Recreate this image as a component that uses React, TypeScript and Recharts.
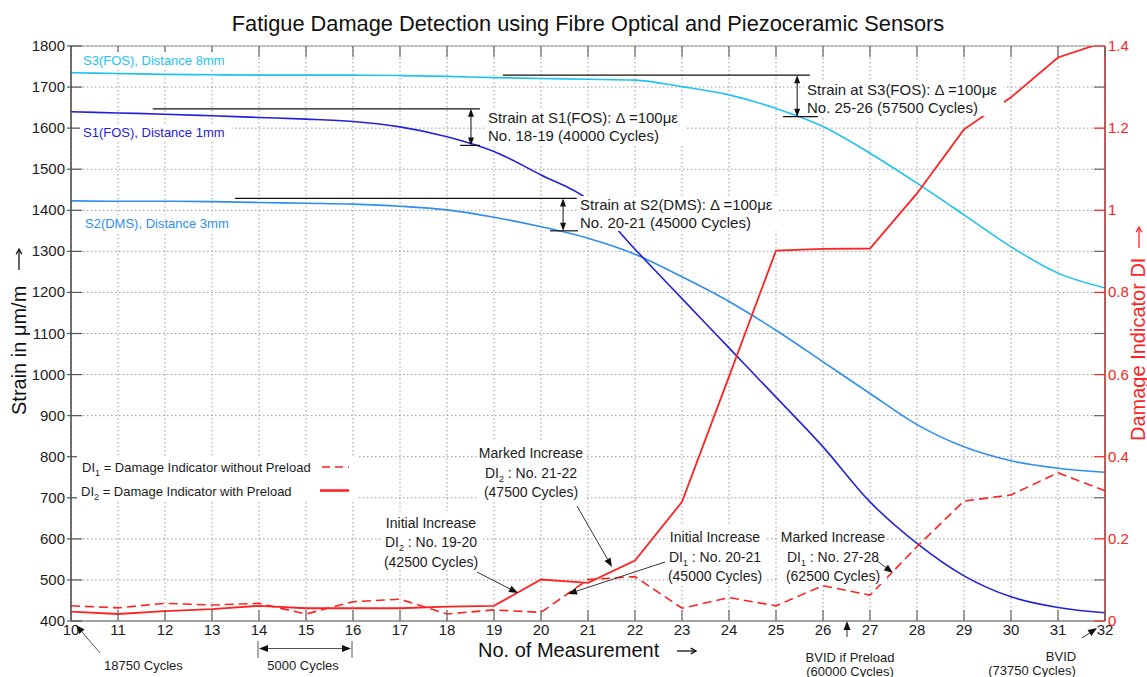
import React from "react";
import {
  LineChart,
  Line,
  XAxis,
  YAxis,
  CartesianGrid,
  ReferenceLine,
} from "recharts";

// ---- values ----
const measurements = [10, 11, 12, 13, 14, 15, 16, 17, 18, 19, 20, 21, 22, 23, 24, 25, 26, 27, 28, 29, 30, 31, 32];

// strain in µm/m
const strainS1 = [1640, 1637, 1634, 1630, 1626, 1622, 1616, 1603, 1579, 1543, 1486, 1426, 1305, 1185, 1065, 945, 824, 690, 589, 510, 459, 433, 420];
const strainS2 = [1423, 1422, 1422, 1421, 1419, 1417, 1415, 1410, 1401, 1383, 1360, 1332, 1293, 1238, 1178, 1108, 1031, 954, 878, 824, 790, 772, 762];
const strainS3 = [1735, 1733, 1731, 1730, 1729, 1729, 1729, 1728, 1726, 1723, 1721, 1719, 1717, 1701, 1681, 1648, 1604, 1539, 1466, 1389, 1311, 1247, 1211];

// damage indicator
const damageDI1 = [0.037, 0.032, 0.043, 0.039, 0.043, 0.017, 0.047, 0.053, 0.017, 0.027, 0.021, 0.101, 0.108, 0.031, 0.057, 0.037, 0.086, 0.063, 0.181, 0.292, 0.307, 0.361, 0.317];
const damageDI2 = [0.023, 0.017, 0.024, 0.029, 0.037, 0.031, 0.031, 0.031, 0.035, 0.037, 0.101, 0.093, 0.147, 0.29, 0.595, 0.902, 0.906, 0.907, 1.041, 1.197, 1.275, 1.372, 1.41];

const strainTicks = [400, 500, 600, 700, 800, 900, 1000, 1100, 1200, 1300, 1400, 1500, 1600, 1700, 1800];
const damageTicks = [0, 0.1, 0.2, 0.3, 0.4, 0.5, 0.6, 0.7, 0.8, 0.9, 1, 1.1, 1.2, 1.3, 1.4];

// "Strain ... delta = 100 µe" markers (measurement no. / strain)
const deltaMarkers = [
  { from: 11.74, to: 18.7, top: 1647, bottom: 1558, lowFrom: 18.28, lowTo: 18.7, at: 18.51 },
  { from: 13.49, to: 20.76, top: 1429, bottom: 1350, lowFrom: 20.19, lowTo: 20.79, at: 20.47 },
  { from: 19.19, to: 25.72, top: 1729, bottom: 1628, lowFrom: 25.15, lowTo: 25.89, at: 25.45 },
];

const data = measurements.map((n, i) => ({
  n,
  s1: strainS1[i],
  s2: strainS2[i],
  s3: strainS3[i],
  di1: damageDI1[i],
  di2: damageDI2[i],
}));

const W = 1147;
const H = 677;
const TOP = 46;
const FONT = '"Liberation Sans", Arial, sans-serif';
const INK = "#1c1c1c";
const RED = "#ff2222";

const C_S1 = "#2222dd";
const C_S2 = "#2f8ef2";
const C_S3 = "#1ec2f4";

const StrainTick = (p: any) => (
  <g>
    <line x1={p.x - 4} x2={p.x + 11} y1={p.y} y2={p.y} stroke="#555" strokeWidth={1.2} />
    <text x={p.x - 6} y={p.y + 5} textAnchor="end" fontSize={15} fill={INK}>
      {p.payload.value}
    </text>
  </g>
);

const DamageTick = (p: any) => {
  const v = p.payload.value;
  const labelled = Math.round(v * 10) % 2 === 0;
  return (
    <g>
      <line x1={p.x - 11} x2={p.x} y1={p.y} y2={p.y} stroke={labelled ? RED : "#666"} strokeWidth={1.2} />
      {labelled && (
        <text x={p.x + 3} y={p.y + 5} textAnchor="start" fontSize={15} fill={RED}>
          {String(Number(v.toFixed(1)))}
        </text>
      )}
    </g>
  );
};

const MeasurementTick = (p: any) => (
  <g>
    <line x1={p.x} x2={p.x} y1={p.y} y2={p.y - 11} stroke="#666" strokeWidth={1.2} />
    <line x1={p.x} x2={p.x} y1={TOP} y2={TOP + 11} stroke="#666" strokeWidth={1.2} />
    <text x={p.x} y={p.y + 14} textAnchor="middle" fontSize={15} fill={INK}>
      {p.payload.value}
    </text>
  </g>
);

const DoubleArrow = (p: any) => {
  const x = p.x1;
  const top = Math.min(p.y1, p.y2);
  const bot = Math.max(p.y1, p.y2);
  return (
    <g>
      <line x1={x} x2={x} y1={top + 2} y2={bot - 2} stroke="#111" strokeWidth={1} />
      <polygon points={`${x},${top} ${x - 3},${top + 8} ${x + 3},${top + 8}`} fill="#111" />
      <polygon points={`${x},${bot} ${x - 3},${bot - 8} ${x + 3},${bot - 8}`} fill="#111" />
    </g>
  );
};

// pointer arrow for the notes, head at (x2, y2)
function Pointer({ x1, y1, x2, y2, color = "#333" }: any) {
  const a = Math.atan2(y2 - y1, x2 - x1);
  const len = 9;
  const w = 3.5;
  const bx = x2 - len * Math.cos(a);
  const by = y2 - len * Math.sin(a);
  const px = -Math.sin(a) * w;
  const py = Math.cos(a) * w;
  return (
    <g>
      <line x1={x1} y1={y1} x2={bx} y2={by} stroke={color} strokeWidth={1} />
      <polygon points={`${x2},${y2} ${bx + px},${by + py} ${bx - px},${by - py}`} fill="#111" />
    </g>
  );
}

// thin "→" style arrow used next to the axis titles
function TitleArrow({ x1, y1, x2, y2, color }: any) {
  const a = Math.atan2(y2 - y1, x2 - x1);
  const l = 6;
  const s = 0.5;
  const p1 = `${x2 - l * Math.cos(a - s)},${y2 - l * Math.sin(a - s)}`;
  const p2 = `${x2 - l * Math.cos(a + s)},${y2 - l * Math.sin(a + s)}`;
  return (
    <g stroke={color} strokeWidth={1.3} fill="none">
      <line x1={x1} y1={y1} x2={x2} y2={y2} />
      <polyline points={`${p1} ${x2},${y2} ${p2}`} />
    </g>
  );
}

function Sub({ n }: { n: string }) {
  return (
    <>
      DI
      <tspan dy={4} fontSize={9}>{n}</tspan>
      <tspan dy={-4}> </tspan>
    </>
  );
}

function Note({ x, y, lines, box }: any) {
  return (
    <g>
      <rect x={box[0]} y={box[1]} width={box[2]} height={box[3]} fill="#fff" />
      {lines.map((l: any, i: number) => (
        <text key={i} x={x} y={y + i * 19.5} textAnchor="middle" fontSize={14} fill={INK}>
          {l}
        </text>
      ))}
    </g>
  );
}

export default function App() {
  return (
    <div style={{ position: "absolute", left: 0, top: 0, width: W, height: H, background: "#fff", fontFamily: FONT }}>
      <LineChart width={W} height={H} data={data} margin={{ top: TOP, right: 0, bottom: 0, left: 0 }}>
        <CartesianGrid yAxisId="left" stroke="#9a9a9a" strokeDasharray="1.5 2.5" />
        <XAxis
          dataKey="n"
          type="number"
          domain={[10, 32]}
          ticks={measurements}
          interval={0}
          height={56}
          tickSize={0}
          tickMargin={0}
          tick={MeasurementTick}
          axisLine={{ stroke: "#888", strokeWidth: 1.5 }}
        />
        <YAxis
          yAxisId="left"
          type="number"
          domain={[400, 1800]}
          ticks={strainTicks}
          interval={0}
          width={71}
          tickSize={0}
          tickMargin={0}
          tick={StrainTick}
          axisLine={{ stroke: "#444", strokeWidth: 1.5 }}
        />
        <YAxis
          yAxisId="right"
          orientation="right"
          type="number"
          domain={[0, 1.4]}
          allowDataOverflow
          ticks={damageTicks}
          interval={0}
          width={42}
          tickSize={0}
          tickMargin={0}
          tick={DamageTick}
          axisLine={{ stroke: "#b02a2a", strokeWidth: 1.5 }}
        />
        <ReferenceLine yAxisId="left" y={1800} stroke="#999" strokeWidth={1.2} />

        <Line yAxisId="left" type="monotone" dataKey="s3" stroke={C_S3} strokeWidth={1.6} dot={false} activeDot={false} isAnimationActive={false} />
        <Line yAxisId="left" type="monotone" dataKey="s2" stroke={C_S2} strokeWidth={1.6} dot={false} activeDot={false} isAnimationActive={false} />
        <Line yAxisId="left" type="monotone" dataKey="s1" stroke={C_S1} strokeWidth={1.6} dot={false} activeDot={false} isAnimationActive={false} />
        <Line yAxisId="right" type="linear" dataKey="di1" stroke={RED} strokeWidth={1.6} strokeDasharray="9 5" dot={false} activeDot={false} isAnimationActive={false} />
        <Line yAxisId="right" type="linear" dataKey="di2" stroke={RED} strokeWidth={1.8} dot={false} activeDot={false} isAnimationActive={false} />

        {deltaMarkers.map((m, i) => (
          <ReferenceLine
            key={`t${i}`}
            yAxisId="left"
            segment={[{ x: m.from, y: m.top }, { x: m.to, y: m.top }]}
            stroke="#111"
            strokeWidth={1.2}
          />
        ))}
        {deltaMarkers.map((m, i) => (
          <ReferenceLine
            key={`b${i}`}
            yAxisId="left"
            segment={[{ x: m.lowFrom, y: m.bottom }, { x: m.lowTo, y: m.bottom }]}
            stroke="#111"
            strokeWidth={1.2}
          />
        ))}
        {deltaMarkers.map((m, i) => (
          <ReferenceLine
            key={`a${i}`}
            yAxisId="left"
            segment={[{ x: m.at, y: m.top }, { x: m.at, y: m.bottom }]}
            shape={DoubleArrow}
          />
        ))}
      </LineChart>

      {/* text annotations on top of the plot */}
      <svg width={W} height={H} style={{ position: "absolute", left: 0, top: 0, pointerEvents: "none", fontFamily: FONT }}>
        <text x={588} y={31} textAnchor="middle" fontSize={21.8} fill="#111">
          Fatigue Damage Detection using Fibre Optical and Piezoceramic Sensors
        </text>

        <text transform="translate(26,415) rotate(-90)" fontSize={20} fill="#111">Strain in μm/m</text>
        <TitleArrow x1={19} y1={270} x2={19} y2={249} color="#111" />
        <text transform="translate(1145,441) rotate(-90)" fontSize={20} fill={RED}>Damage Indicator DI</text>
        <TitleArrow x1={1139} y1={248} x2={1139} y2={227} color={RED} />
        <text x={478} y={657} fontSize={20} fill="#111">No. of Measurement</text>
        <TitleArrow x1={677} y1={651} x2={696} y2={651} color="#111" />

        {/* sensor names */}
        <rect x={80} y={52} width={150} height={16} fill="#fff" />
        <text x={83} y={64.5} fontSize={13} fill={C_S3}>S3(FOS), Distance 8mm</text>
        <rect x={80} y={124} width={152} height={16} fill="#fff" />
        <text x={83} y={136.5} fontSize={13} fill={C_S1}>S1(FOS), Distance 1mm</text>
        <rect x={82} y={215} width={152} height={16} fill="#fff" />
        <text x={85} y={228} fontSize={13} fill={C_S2}>S2(DMS), Distance 3mm</text>

        {/* delta notes */}
        <rect x={485} y={109} width={200} height={36} fill="#fff" />
        <text x={488} y={123} fontSize={15} fill={INK}>Strain at S1(FOS): Δ =100με</text>
        <text x={488} y={141} fontSize={15} fill={INK}>No. 18-19 (40000 Cycles)</text>
        <rect x={578} y={196} width={200} height={35} fill="#fff" />
        <text x={580} y={210} fontSize={15} fill={INK}>Strain at S2(DMS): Δ =100με</text>
        <text x={580} y={228} fontSize={15} fill={INK}>No. 20-21 (45000 Cycles)</text>
        <rect x={804} y={80} width={200} height={36} fill="#fff" />
        <text x={807} y={95} fontSize={15} fill={INK}>Strain at S3(FOS): Δ =100με</text>
        <text x={807} y={113} fontSize={15} fill={INK}>No. 25-26 (57500 Cycles)</text>

        {/* DI legend */}
        <rect x={77} y={456} width={280} height={45} fill="#fff" />
        <text x={82} y={471.5} fontSize={13} fill={INK}>
          <Sub n="1" />= Damage Indicator without Preload
        </text>
        <line x1={322} x2={349} y1={467} y2={467} stroke={RED} strokeWidth={1.6} strokeDasharray="8 5" />
        <text x={81} y={495.5} fontSize={13} fill={INK}>
          <Sub n="2" />= Damage Indicator with Preload
        </text>
        <line x1={320} x2={349} y1={490.5} y2={490.5} stroke={RED} strokeWidth={2.6} />

        {/* DI notes */}
        <Note x={431} y={527.5} box={[383, 511, 98, 58]} lines={["Initial Increase", <><Sub n="2" />: No. 19-20</>, "(42500 Cycles)"]} />
        <Note x={531} y={458} box={[478, 441, 108, 60]} lines={["Marked Increase", <><Sub n="2" />: No. 21-22</>, "(47500 Cycles)"]} />
        <Note x={715} y={542} box={[668, 526, 98, 58]} lines={["Initial Increase", <><Sub n="1" />: No. 20-21</>, "(45000 Cycles)"]} />
        <Note x={833} y={542} box={[779, 526, 108, 58]} lines={["Marked Increase", <><Sub n="1" />: No. 27-28</>, "(62500 Cycles)"]} />
        <Pointer x1={477} y1={572} x2={518} y2={593} />
        <Pointer x1={577} y1={506} x2={612} y2={567} />
        <Pointer x1={665} y1={562} x2={568} y2={594} />
        <Pointer x1={876} y1={560} x2={893} y2={573} />

        {/* notes under the axis */}
        <Pointer x1={100} y1={653} x2={76} y2={625} color="#555" />
        <text x={104} y={669.5} fontSize={13} fill={INK}>18750 Cycles</text>
        <line x1={258} x2={258} y1={641} y2={658} stroke="#555" strokeWidth={1} />
        <line x1={352} x2={352} y1={641} y2={658} stroke="#555" strokeWidth={1} />
        <Pointer x1={305} y1={648.5} x2={259} y2={648.5} color="#555" />
        <Pointer x1={305} y1={648.5} x2={351} y2={648.5} color="#555" />
        <text x={303} y={669.5} textAnchor="middle" fontSize={13} fill={INK}>5000 Cycles</text>
        <Pointer x1={847} y1={637} x2={847} y2={621} />
        <text x={850} y={661.5} textAnchor="middle" fontSize={13} fill={INK}>BVID if Preload</text>
        <text x={850} y={676} textAnchor="middle" fontSize={13} fill={INK}>(60000 Cycles)</text>
        <Pointer x1={1082} y1={638} x2={1097} y2={628} />
        <text x={1061} y={660.5} textAnchor="middle" fontSize={13} fill={INK}>BVID</text>
        <text x={1032} y={675} textAnchor="middle" fontSize={13} fill={INK}>(73750 Cycles)</text>
      </svg>
    </div>
  );
}
